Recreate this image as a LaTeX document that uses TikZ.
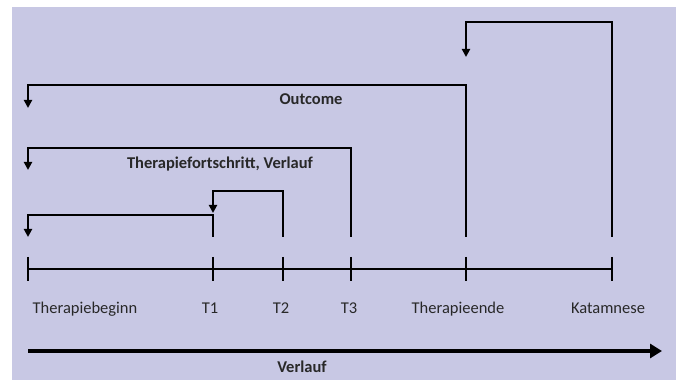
\documentclass[tikz,border=0pt]{standalone}
\usepackage{fontspec}
\setmainfont{Carlito}
\usetikzlibrary{arrows.meta,calc}
\definecolor{bg}{RGB}{200,200,228}
\definecolor{txt}{RGB}{40,40,40}
\begin{document}
\begin{tikzpicture}[x=1pt,y=-1pt,
  lbl/.style={font=\fontsize{16.5}{18}\selectfont, text=txt, inner sep=0pt, anchor=base},
  blbl/.style={font=\fontsize{16.5}{18}\selectfont\bfseries, text=txt, inner sep=0pt, anchor=base},
  brk/.style={line width=2pt, line join=miter, -{Triangle[width=8pt,length=8pt]}},
  tl/.style={line width=1.6pt},
  big/.style={line width=3.6pt, -{Triangle[width=14pt,length=12pt]}}]
\useasboundingbox (0,0) rectangle (683,382);
\fill[bg] (12,7) rectangle (676,380);
% timeline points
\coordinate (tb) at (28,269);
\coordinate (t1) at (213,269);
\coordinate (t2) at (283,269);
\coordinate (t3) at (351,269);
\coordinate (te) at (466,269);
\coordinate (ka) at (612,269);
\draw[tl] (tb) -- (ka);
\foreach \p in {tb,t1,t2,t3,te,ka}
  \draw[tl] ($(\p)+(0,-12)$) -- ($(\p)+(0,12)$);
% bottom ends of bracket verticals
\foreach \p/\q in {tb/v0,t1/v1,t2/v2,t3/v3,te/v4,ka/v5}
  \coordinate (\q) at ($(\p)+(0,-32)$);
% brackets
\draw[brk] (v1) -- ++(0,-22) -| (v0);
\draw[brk] (v2) -- ++(0,-46) -| ($(v1)+(0,-24)$);
\draw[brk] (v3) -- ++(0,-89) -| ($(v0)+(0,-67)$);
\draw[brk] (v4) -- ++(0,-152) -| ($(v0)+(0,-129)$);
\draw[brk] (v5) -- ++(0,-215) -| ($(v4)+(0,-180)$);
% labels
\node[lbl] (l0) at (85,313) {Therapiebeginn};
\node[lbl] (l1) at (210,313) {T1};
\node[lbl] (l2) at (281,313) {T2};
\node[lbl] (l3) at (349,313) {T3};
\node[lbl] (l4) at (458,313) {Therapieende};
\node[lbl] (l5) at (608,313) {Katamnese};
\node[blbl] (fort) at (220,169) {Therapiefortschritt, Verlauf};
\node[blbl] (outc) at (311,105) {Outcome};
% bottom arrow
\coordinate (as) at (28,351);
\coordinate (ae) at (662,351);
\draw[big] (as) -- (ae);
\node[blbl] (verl) at (302,372) {Verlauf};
\end{tikzpicture}
\end{document}
